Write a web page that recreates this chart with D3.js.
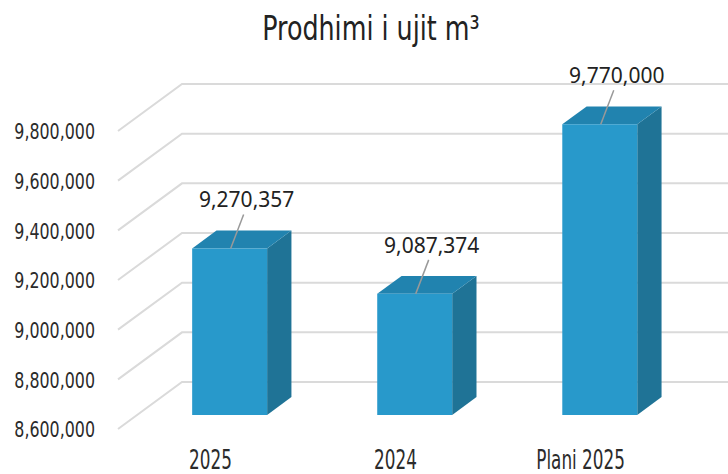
<!DOCTYPE html>
<html>
<head>
<meta charset="utf-8">
<script src="https://cdn.jsdelivr.net/npm/d3@7"></script>
<style>
  body { margin: 0; background: #fff; }
  .axis text { fill: #2b2b2b; }
</style>
</head>
<body>
<div id="vis"></div>
<script>
// data
const categories = ['2025', '2024', 'Plani 2025']
const values = [9270357, 9087374, 9770000]
const yTicks = [8600000, 8800000, 9000000, 9200000, 9400000, 9600000, 9800000]
const title = 'Prodhimi i ujit m³'

const W = 728, H = 474
// front plane of the 3d box
const plotLeft = 118, plotRight = 673, plotBottom = 429, plotTop = 131
// depth offset of the back wall
const depthX = 64, depthY = -47
// bars sit between these depths
const z0 = 0.30, z1 = 0.68

// the original font is a narrow one, so squeeze the condensed font a bit
const narrowFont = '"DejaVu Sans Condensed", "DejaVu Sans", sans-serif'

const svg = d3.select('#vis')
    .append('svg')
    .attr('width', W)
    .attr('height', H)

const yScale = d3.scaleLinear()
    .domain([d3.min(yTicks), d3.max(yTicks)])
    .range([plotBottom, plotTop])

const xScale = d3.scaleBand()
    .domain(categories)
    .range([plotLeft, plotRight])
    .paddingInner(0.595)
    .paddingOuter(0.297)

const proj = (x, y, z) => [x + depthX * z, y + depthY * z]

// gridlines: side wall diagonal + back wall line
const grid = svg.append('g')
    .attr('fill', 'none')
    .attr('stroke', '#dadada')
    .attr('stroke-width', 2)

grid.selectAll('path')
    .data(yTicks)
    .join('path')
    .attr('d', d => {
        const y = yScale(d)
        const [bx, by] = proj(plotLeft, y, 1)
        return `M${plotLeft},${y}L${bx},${by}L${W + 20},${by}`
    })

// y axis labels
const yAxis = d3.axisLeft(yScale)
    .tickValues(yTicks)
    .tickFormat(d3.format(','))
    .tickSize(0)
    .tickPadding(23)

svg.append('g')
    .attr('class', 'axis')
    .attr('transform', `translate(${plotLeft},1)`)
    .call(yAxis)
    .call(g => g.select('.domain').remove())
    .selectAll('text')
    .attr('x', 0)
    .attr('transform', 'translate(-23,0) scale(0.84,1)')
    .attr('font-family', narrowFont)
    .attr('font-size', 21)

// bars
const bars = svg.append('g')
    .selectAll('g')
    .data(categories.map((c, i) => ({cat: c, value: values[i]})))
    .join('g')

const bw = xScale.bandwidth()

function face(pts) {
    return 'M' + pts.map(p => p.join(',')).join('L') + 'Z'
}

// side face
bars.append('path')
    .attr('fill', '#1f7396')
    .attr('d', d => {
        const x = xScale(d.cat) + bw, yt = yScale(d.value), yb = yScale(yTicks[0])
        return face([proj(x, yt, z0), proj(x, yt, z1), proj(x, yb, z1), proj(x, yb, z0)])
    })

// top face
bars.append('path')
    .attr('fill', '#2183af')
    .attr('d', d => {
        const x = xScale(d.cat), yt = yScale(d.value)
        return face([proj(x, yt, z0), proj(x, yt, z1), proj(x + bw, yt, z1), proj(x + bw, yt, z0)])
    })

// front face
bars.append('path')
    .attr('fill', '#2899cb')
    .attr('d', d => {
        const x = xScale(d.cat), yt = yScale(d.value), yb = yScale(yTicks[0])
        return face([proj(x, yt, z0), proj(x + bw, yt, z0), proj(x + bw, yb, z0), proj(x, yb, z0)])
    })

// value labels with leader lines
bars.append('line')
    .attr('stroke', '#999')
    .attr('stroke-width', 1.5)
    .attr('x1', d => proj(xScale(d.cat) + bw / 2, yScale(d.value), z0)[0] + 1)
    .attr('y1', d => proj(xScale(d.cat), yScale(d.value), z0)[1])
    .attr('x2', d => proj(xScale(d.cat) + bw / 2, yScale(d.value), z0)[0] + 14)
    .attr('y2', d => proj(xScale(d.cat), yScale(d.value), z0)[1] - 34)

bars.append('text')
    .attr('x', d => proj(xScale(d.cat) + bw / 2, yScale(d.value), z0)[0] + 17)
    .attr('y', d => proj(xScale(d.cat), yScale(d.value), z0)[1] - 41)
    .attr('text-anchor', 'middle')
    .attr('font-family', '"Noto Sans", "DejaVu Sans", sans-serif')
    .attr('font-size', 21)
    .attr('fill', '#222')
    .text(d => d3.format(',')(d.value))

// category labels
const xAxis = d3.axisBottom(xScale)
    .tickSize(0)
    .tickPadding(0)

svg.append('g')
    .attr('class', 'axis')
    .attr('transform', 'translate(0,451)')
    .call(xAxis)
    .call(g => g.select('.domain').remove())
    .selectAll('text')
    .attr('transform', 'scale(0.72,1)')
    .attr('font-family', narrowFont)
    .attr('font-size', 26)
    .attr('fill', '#222')

// title
svg.append('text')
    .attr('transform', 'translate(371,40) scale(0.83,1)')
    .attr('text-anchor', 'middle')
    .attr('font-family', narrowFont)
    .attr('font-size', 34)
    .attr('fill', '#222')
    .text(title)
</script>
</body>
</html>
